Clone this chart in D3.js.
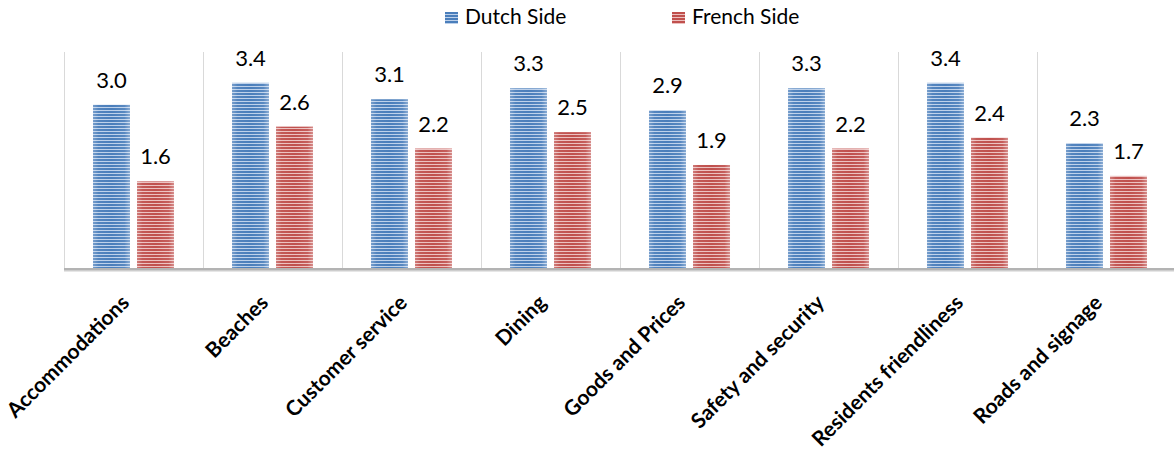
<!DOCTYPE html>
<html>
<head>
<meta charset="utf-8">
<script src="https://cdn.jsdelivr.net/npm/d3@7"></script>
<style>
  html, body { margin: 0; padding: 0; background: #ffffff; }
  svg { display: block; }
</style>
</head>
<body>
<div id="chart"></div>
<script>
// Visitor ratings by category, Dutch vs French side
const categories = ["Accommodations", "Beaches", "Customer service", "Dining",
  "Goods and Prices", "Safety and security", "Residents friendliness", "Roads and signage"];
const seriesNames = ["Dutch Side", "French Side"];
const dutchValues = [3.0, 3.4, 3.1, 3.3, 2.9, 3.3, 3.4, 2.3];
const frenchValues = [1.6, 2.6, 2.2, 2.5, 1.9, 2.2, 2.4, 1.7];
const yDomain = [0, 4];

const width = 1174, height = 455;
const plot = { left: 64, right: 1176, top: 50, bottom: 269 };
const fontFamily = "Lato, 'Open Sans', sans-serif";

const svg = d3.select("#chart").append("svg")
  .attr("width", width).attr("height", height);

const defs = svg.append("defs");
const palette = {
  "Dutch Side": { dark: "#4a7ebb", light: "#bcd0ea", id: "stripeBlue" },
  "French Side": { dark: "#c0504d", light: "#ecc0bf", id: "stripeRed" }
};
Object.values(palette).forEach(p => {
  const pat = defs.append("pattern")
    .attr("id", p.id).attr("patternUnits", "userSpaceOnUse")
    .attr("width", 6).attr("height", 3);
  pat.append("rect").attr("width", 6).attr("height", 3).attr("fill", p.light);
  pat.append("rect").attr("width", 6).attr("height", 2).attr("fill", p.dark);
});
// soft sheen toward the bar edges
const sheen = defs.append("linearGradient").attr("id", "sheen")
  .attr("x1", "0%").attr("x2", "100%").attr("y1", "0%").attr("y2", "0%");
[[0, 0.25], [0.15, 0.05], [0.5, 0.0], [0.85, 0.08], [1, 0.35]].forEach(([o, a]) =>
  sheen.append("stop").attr("offset", o).attr("stop-color", "#fff").attr("stop-opacity", a));

const x0 = d3.scaleBand().domain(categories).range([plot.left, plot.right]).padding(0);
const x1 = d3.scaleBand().domain(seriesNames).range([0, x0.bandwidth()])
  .paddingInner(0.159).paddingOuter(0.659);
const y = d3.scaleLinear().domain(yDomain).range([plot.bottom, plot.top]);

// category separators
const seps = d3.range(categories.length + 1).map(i =>
  i < categories.length ? x0(categories[i]) : x0(categories[i - 1]) + x0.bandwidth());
svg.append("g").selectAll("line").data(seps).join("line")
  .attr("x1", d => Math.round(d) + 0.5).attr("x2", d => Math.round(d) + 0.5)
  .attr("y1", plot.top + 2).attr("y2", plot.bottom)
  .attr("stroke", "#d9d9d9").attr("stroke-width", 1);

const rows = categories.map((c, i) => ({
  category: c,
  values: [
    { series: "Dutch Side", value: dutchValues[i] },
    { series: "French Side", value: frenchValues[i] }
  ]
}));

const groups = svg.append("g").selectAll("g").data(rows).join("g")
  .attr("transform", d => `translate(${x0(d.category)},0)`);

groups.selectAll("rect.bar").data(d => d.values).join("rect")
  .attr("class", "bar")
  .attr("x", d => x1(d.series)).attr("width", x1.bandwidth())
  .attr("y", d => y(d.value)).attr("height", d => y(0) - y(d.value))
  .attr("fill", d => `url(#${palette[d.series].id})`);
groups.selectAll("rect.sheen").data(d => d.values).join("rect")
  .attr("class", "sheen")
  .attr("x", d => x1(d.series)).attr("width", x1.bandwidth())
  .attr("y", d => y(d.value)).attr("height", d => y(0) - y(d.value))
  .attr("fill", "url(#sheen)");

groups.selectAll("text.val").data(d => d.values).join("text")
  .attr("class", "val")
  .attr("x", d => x1(d.series) + x1.bandwidth() / 2)
  .attr("y", d => y(d.value) - 17)
  .attr("text-anchor", "middle")
  .attr("font-family", fontFamily)
  .attr("font-size", 22)
  .attr("fill", "#000")
  .text(d => d3.format(".1f")(d.value));

// category axis
const xAxis = d3.axisBottom(x0).tickSize(0).tickPadding(0);
const axisG = svg.append("g").attr("transform", `translate(0,${plot.bottom})`).call(xAxis);
axisG.select(".domain").remove();
axisG.append("rect").attr("x", plot.left).attr("y", 1).attr("width", width - plot.left)
  .attr("height", 2).attr("fill", "#e6e6e6");
axisG.append("rect").attr("x", plot.left).attr("y", -1).attr("width", width - plot.left)
  .attr("height", 2.5).attr("fill", "#b3b3b3");
axisG.selectAll(".tick text")
  .attr("font-family", fontFamily)
  .attr("font-size", 21)
  .attr("font-weight", "bold")
  .attr("fill", "#000")
  .attr("text-anchor", "end")
  .attr("dy", 0)
  .attr("transform", "translate(-3,35) rotate(-45)");

// legend
const legend = svg.append("g");
const legendX = [445, 672];
seriesNames.forEach((s, i) => {
  const g = legend.append("g").attr("transform", `translate(${legendX[i]},12)`);
  g.append("rect").attr("width", 13).attr("height", 12)
    .attr("fill", `url(#${palette[s].id})`);
  g.append("text").attr("x", 20).attr("y", 12)
    .attr("font-family", fontFamily)
    .attr("font-size", 21).attr("fill", "#000").text(s);
});
</script>
</body>
</html>
